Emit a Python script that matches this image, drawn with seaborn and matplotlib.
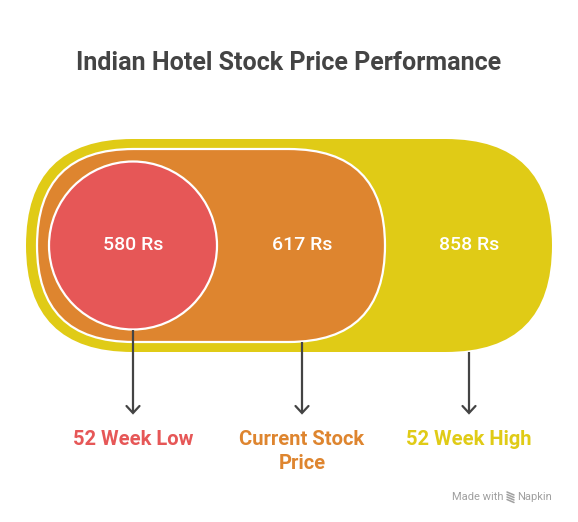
import matplotlib
matplotlib.use("Agg")
import matplotlib.pyplot as plt
from matplotlib.patches import FancyBboxPatch, Circle
import seaborn as sns

# ---- data ----
categories = ["52 Week Low", "Current Stock Price", "52 Week High"]
label_lines = ["52 Week Low", "Current Stock\nPrice", "52 Week High"]
prices = [580, 617, 858]
unit = "Rs"
colors = ["#E65757", "#DE852F", "#E0CB16"]
title = "Indian Hotel Stock Price Performance"

sns.set_theme(style="white")
plt.rcParams["font.family"] = ["Roboto", "DejaVu Sans"]

W, H = 578, 522
fig = plt.figure(figsize=(W / 100, H / 100), dpi=100)
ax = fig.add_axes([0, 0, 1, 1])
ax.set_xlim(0, W)
ax.set_ylim(H, 0)
ax.set_aspect("equal")
ax.axis("off")

cy = 245.5
x0, x1, top, bot = 26, 552, 139, 352
r = (bot - top) / 2
ax.add_patch(FancyBboxPatch((x0, top), x1 - x0, bot - top,
                            boxstyle=f"round,pad=0,rounding_size={r}",
                            fc=colors[2], ec="none", zorder=1))
m0, m1, mt, mb = 37, 385, 149, 342
mr = (mb - mt) / 2
ax.add_patch(FancyBboxPatch((m0, mt), m1 - m0, mb - mt,
                            boxstyle=f"round,pad=0,rounding_size={mr}",
                            fc=colors[1], ec="white", lw=1.6, zorder=2))
cx, cr = 133, 84
ax.add_patch(Circle((cx, cy), cr, fc=colors[0], ec="white", lw=1.6, zorder=3))

xs = [133, 302, 469]
starts = [cy + cr, mb, bot]
for x, p in zip(xs, prices):
    ax.text(x, cy, f"{p} {unit}", color="white", fontsize=14,
            fontweight="medium", ha="center", va="center", zorder=5)

arrow_end = 413
for x, s, lab, c in zip(xs, starts, label_lines, colors):
    ax.plot([x, x], [s, arrow_end], color="#444444", lw=1.6, zorder=4,
            solid_capstyle="butt")
    ax.plot([x - 6.5, x, x + 6.5], [arrow_end - 7, arrow_end, arrow_end - 7],
            color="#444444", lw=1.6, zorder=4, solid_joinstyle="miter")
    ax.text(x, 430, lab, color=c, fontsize=14.5, fontweight="bold",
            ha="center", va="top", linespacing=1.35)

ax.text(289, 63, title, color="#444444", fontsize=18, fontweight="bold",
        ha="center", va="center")

# watermark
wm = "#a0a0a0"
ax.text(503, 497, "Made with", color=wm, fontsize=8, ha="right", va="center")
for dy in (-3.5, -1, 1.5, 4):
    ax.plot([507, 514], [497 + dy - 1.5, 497 + dy + 1.5], color=wm, lw=1.1)
ax.text(517, 497, "Napkin", color=wm, fontsize=8, ha="left", va="center")

fig.savefig("out.png", dpi=100, facecolor="white")
